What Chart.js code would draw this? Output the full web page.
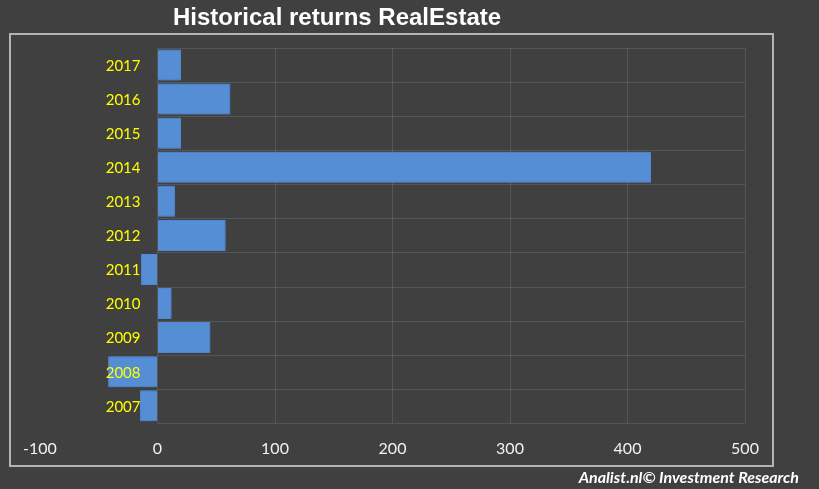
<!DOCTYPE html>
<html>
<head>
<meta charset="utf-8">
<script src="https://cdn.jsdelivr.net/npm/chart.js@4.4.1/dist/chart.umd.min.js"></script>
<style>
  html, body { margin: 0; padding: 0; background: #404040; }
  #wrap { position: relative; width: 819px; height: 489px; }
</style>
</head>
<body>
<div id="wrap"><canvas id="returns" width="819" height="489"></canvas></div>
<script>
const years = ['2007', '2008', '2009', '2010', '2011', '2012', '2013', '2014', '2015', '2016', '2017'];
const returns = [-15, -42, 45, 12, -14, 58, 15, 420, 20, 62, 20];
const xTicks = [-100, 0, 100, 200, 300, 400, 500];

const titleText = 'Historical returns RealEstate';
const footerText = 'Analist.nl\u00a9 Investment Research';
const gridColor = 'rgba(255,255,255,0.11)';

// frame, title, footer, row lines and year labels next to the zero line
const decorations = {
    id: 'decorations',
    beforeDraw(chart) {
        const ctx = chart.ctx;
        ctx.save();
        ctx.fillStyle = '#404040';
        ctx.fillRect(0, 0, chart.width, chart.height);
        ctx.strokeStyle = '#b4b4b4';
        ctx.lineWidth = 2;
        ctx.strokeRect(10, 34, 763, 432);
        ctx.restore();
    },
    beforeDatasetsDraw(chart) {
        const ctx = chart.ctx;
        const area = chart.chartArea;
        const left = chart.scales.x.getPixelForValue(0);
        const right = chart.scales.x.getPixelForValue(500);
        const step = (area.bottom - area.top) / years.length;
        ctx.save();
        ctx.strokeStyle = gridColor;
        ctx.lineWidth = 1;
        for (let i = 0; i <= years.length; i++) {
            const yy = Math.round(area.top + i * step) + 0.5;
            ctx.beginPath();
            ctx.moveTo(left, yy);
            ctx.lineTo(right, yy);
            ctx.stroke();
        }
        ctx.restore();
        ctx.save();
        ctx.shadowColor = 'rgba(90,150,230,0.8)';
        ctx.shadowBlur = 5;
    },
    afterDatasetsDraw(chart) {
        chart.ctx.restore();
    },
    afterDraw(chart) {
        const ctx = chart.ctx;
        const x0 = chart.scales.x.getPixelForValue(0);
        const y = chart.scales.y;
        ctx.save();
        ctx.fillStyle = '#ffff00';
        ctx.font = '15px Lato, "Open Sans", sans-serif';
        ctx.textAlign = 'right';
        ctx.textBaseline = 'middle';
        years.forEach((yr, i) => {
            ctx.fillText(yr, x0 - 17, y.getPixelForValue(i) + 1);
        });

        ctx.fillStyle = '#ffffff';
        ctx.font = 'bold 24px "Liberation Sans", Arial, sans-serif';
        ctx.textAlign = 'center';
        ctx.fillText(titleText, 337, 18);

        ctx.font = 'italic bold 16px Lato, "Open Sans", sans-serif';
        ctx.textAlign = 'right';
        ctx.fillText(footerText, 799, 478);
        ctx.restore();
    }
};

new Chart(document.getElementById('returns').getContext('2d'), {
    type: 'bar',
    data: {
        labels: years,
        datasets: [{
            data: returns,
            backgroundColor: '#558ed5',
            borderColor: '#4a84cf',
            borderWidth: 1,
            barPercentage: 0.91,
            categoryPercentage: 1
        }]
    },
    options: {
        indexAxis: 'y',
        responsive: false,
        animation: false,
        layout: { padding: { left: 40, right: 74, top: 48, bottom: 15 } },
        plugins: {
            legend: { display: false },
            tooltip: { enabled: false },
            title: { display: false }
        },
        scales: {
            x: {
                min: -100,
                max: 500,
                afterBuildTicks(scale) {
                    scale.ticks = xTicks.map(v => ({ value: v }));
                },
                grid: {
                    color: ctx => (ctx.tick && ctx.tick.value < 0 ? 'rgba(0,0,0,0)' : gridColor),
                    drawTicks: false
                },
                border: { display: false },
                ticks: {
                    color: '#f2f2f2',
                    padding: 16,
                    font: { family: 'Lato, "Open Sans", sans-serif', size: 16 }
                }
            },
            y: {
                display: false,
                reverse: true
            }
        }
    },
    plugins: [decorations]
});
</script>
</body>
</html>
